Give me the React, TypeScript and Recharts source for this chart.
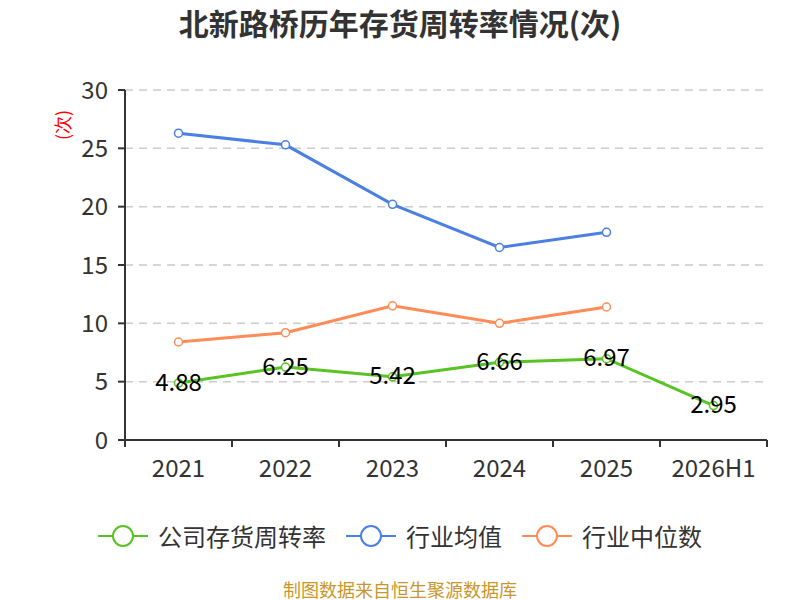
import React from 'react';
import { LineChart, Line, XAxis, YAxis, CartesianGrid, Legend, LabelList } from 'recharts';

const categories = ['2021', '2022', '2023', '2024', '2025', '2026H1'];
const companyTurnover = [4.88, 6.25, 5.42, 6.66, 6.97, 2.95];
const industryAverage = [26.3, 25.3, 20.2, 16.5, 17.8, null];
const industryMedian = [8.4, 9.2, 11.5, 10.0, 11.4, null];
const yTicks = [0, 5, 10, 15, 20, 25, 30];

const seriesNames = ['公司存货周转率', '行业均值', '行业中位数'];
const colors = ['#58c322', '#4b7fe1', '#ff8b56'];

const data = categories.map((c, i) => ({
  name: c,
  company: companyTurnover[i],
  avg: industryAverage[i],
  median: industryMedian[i],
}));

const FONT = '"Noto Sans CJK SC", "Noto Sans", sans-serif';
const W = 800;
const H = 600;
const LEFT = 125;
const RIGHT = 33;
const BW = (W - LEFT - RIGHT) / categories.length;

const XTick = (props: any) => {
  const { x, y, payload, index } = props;
  return (
    <g>
      <line x1={x - BW / 2} y1={y} x2={x - BW / 2} y2={y + 7} stroke="#333" strokeWidth={2} />
      {index === categories.length - 1 && (
        <line x1={x + BW / 2} y1={y} x2={x + BW / 2} y2={y + 7} stroke="#333" strokeWidth={2} />
      )}
      <text x={x} y={y + 26} textAnchor="middle" dominantBaseline="central" fill="#333" fontSize={24} fontFamily={FONT}>
        {payload.value}
      </text>
    </g>
  );
};

const LegendContent = () => {
  return (
    <div style={{ display: 'flex', justifyContent: 'center', alignItems: 'center', fontFamily: FONT, width: W, marginLeft: 0 }}>
      {seriesNames.map((n, i) => (
        <div key={n} style={{ display: 'flex', alignItems: 'center', marginRight: i < 2 ? 20 : 0 }}>
          <svg width={50} height={24}>
            <line x1={0} y1={12} x2={50} y2={12} stroke={colors[i]} strokeWidth={2} />
            <circle cx={25} cy={12} r={10} fill="#fff" stroke={colors[i]} strokeWidth={2} />
          </svg>
          <span style={{ marginLeft: 10, fontSize: 24, color: '#333', lineHeight: '28px' }}>{n}</span>
        </div>
      ))}
    </div>
  );
};

const renderLabel = (props: any) => {
  const { x, y, value } = props;
  return (
    <text x={x} y={y - 3} textAnchor="middle" dominantBaseline="central" fill="#000" fontSize={24} fontFamily={FONT}>
      {value}
    </text>
  );
};

const UnitLabel = (props: any) => {
  const vb = props.viewBox || { x: 0, y: 90 };
  const cx = vb.x + 62;
  const cy = vb.y + 35;
  return (
    <text x={cx} y={cy} transform={`rotate(-90 ${cx} ${cy})`} textAnchor="middle" dominantBaseline="central" fill="#ff0000" fontSize={18} fontFamily={FONT}>
      (次)
    </text>
  );
};

export default function App() {
  return (
    <div style={{ position: 'absolute', left: 0, top: 0, width: W, height: H, background: '#fff', fontFamily: FONT }}>
      <div style={{ position: 'absolute', top: 2, left: 0, width: W, textAlign: 'center', fontSize: 30, fontWeight: 'bold', color: '#333', lineHeight: '40px' }}>
        北新路桥历年存货周转率情况(次)
      </div>
      <LineChart width={W} height={H} data={data} margin={{ top: 90, right: RIGHT, bottom: 80, left: 0 }}>
        <CartesianGrid vertical={false} stroke="#ccc" strokeDasharray="8 6" strokeWidth={1.5} />
        <XAxis
          dataKey="name"
          tick={<XTick />}
          tickLine={false}
          tickSize={0}
          tickMargin={0}
          height={40}
          padding={{ left: BW / 2, right: BW / 2 }}
          axisLine={{ stroke: '#333', strokeWidth: 2 }}
          interval={0}
        />
        <YAxis
          width={LEFT}
          domain={[0, 30]}
          ticks={yTicks}
          interval={0}
          tickSize={7}
          tickLine={{ stroke: '#333', strokeWidth: 2 }}
          axisLine={{ stroke: '#333', strokeWidth: 2 }}
          tick={{ fill: '#333', fontSize: 24, fontFamily: FONT }}
          tickMargin={10}
          label={<UnitLabel />}
        />
        <Legend
          content={<LegendContent />}
          height={40}
          wrapperStyle={{ position: 'absolute', top: 522, left: 0, width: W }}
        />
        <Line
          name={seriesNames[0]}
          dataKey="company"
          stroke={colors[0]}
          strokeWidth={3}
          dot={{ r: 4, fill: '#fff', stroke: colors[0], strokeWidth: 1.5 }}
          isAnimationActive={false}
        >
          <LabelList dataKey="company" content={renderLabel} />
        </Line>
        <Line
          name={seriesNames[1]}
          dataKey="avg"
          stroke={colors[1]}
          strokeWidth={3}
          dot={{ r: 4, fill: '#fff', stroke: colors[1], strokeWidth: 1.5 }}
          isAnimationActive={false}
        />
        <Line
          name={seriesNames[2]}
          dataKey="median"
          stroke={colors[2]}
          strokeWidth={3}
          dot={{ r: 4, fill: '#fff', stroke: colors[2], strokeWidth: 1.5 }}
          isAnimationActive={false}
        />
      </LineChart>
      <div style={{ position: 'absolute', top: 579, left: 0, width: W, textAlign: 'center', fontSize: 18, color: '#c9962b', lineHeight: '20px' }}>
        制图数据来自恒生聚源数据库
      </div>
    </div>
  );
}
